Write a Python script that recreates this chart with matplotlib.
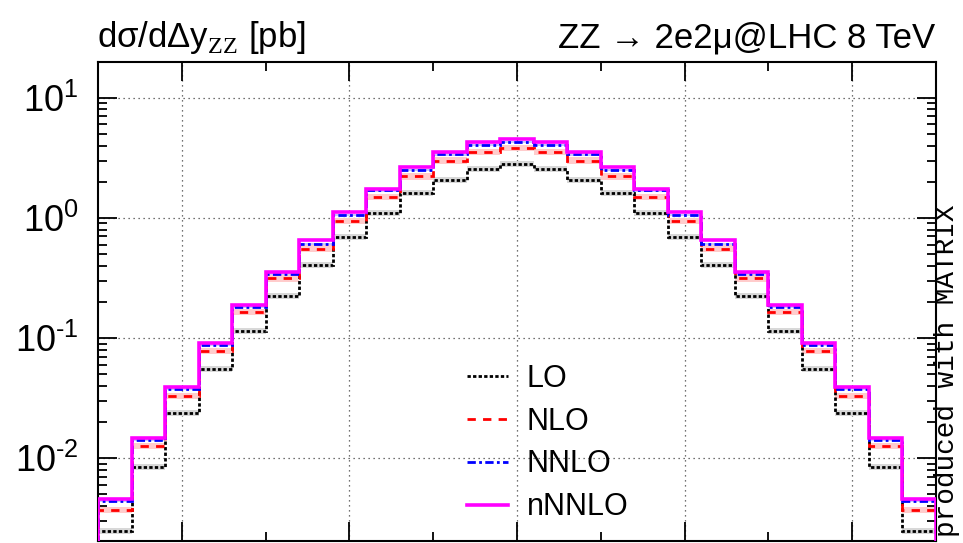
'''
Rapidity difference of the ZZ pair (ZZ -> 2e2mu, LHC 8 TeV), LO up to nNNLO
'''
import numpy as np
import matplotlib
matplotlib.use("Agg")
import matplotlib.pyplot as plt
from matplotlib.lines import Line2D
from matplotlib.ticker import LogLocator, MultipleLocator, NullFormatter, FuncFormatter

# bin edges of delta y_ZZ (25 bins)
dy_edges = np.linspace(-5.0, 5.0, 26)

# cross sections per bin in pb
xs_lo = [0.0025, 0.0085, 0.024, 0.0552, 0.115, 0.224, 0.405, 0.69, 1.10, 1.61, 2.08, 2.56, 2.80,
         2.56, 2.08, 1.61, 1.10, 0.69, 0.405, 0.224, 0.115, 0.0552, 0.024, 0.0085, 0.0025]
xs_nlo = [0.0037, 0.0126, 0.0332, 0.0783, 0.165, 0.314, 0.556, 0.95, 1.49, 2.21, 3.00, 3.55, 3.80,
          3.55, 3.00, 2.21, 1.49, 0.95, 0.556, 0.314, 0.165, 0.0783, 0.0332, 0.0126, 0.0037]
xs_nnlo = [0.0044, 0.0142, 0.0378, 0.087, 0.180, 0.339, 0.608, 1.06, 1.69, 2.52, 3.37, 4.05, 4.29,
           4.05, 3.37, 2.52, 1.69, 1.06, 0.608, 0.339, 0.180, 0.087, 0.0378, 0.0142, 0.0044]
xs_nnnlo = [0.0046, 0.0148, 0.0394, 0.0907, 0.1875, 0.354, 0.652, 1.12, 1.75, 2.65, 3.52, 4.24, 4.52,
            4.24, 3.52, 2.65, 1.75, 1.12, 0.652, 0.354, 0.1875, 0.0907, 0.0394, 0.0148, 0.0046]

# rough relative scale uncertainty (band half width)
unc_lo = 0.06
unc_nlo = 0.06
unc_nnlo = 0.02
unc_nnnlo = 0.02

labels = ["LO", "NLO", "NNLO", "nNNLO"]


def draw_hist(ax, vals, unc, col, band_col, ls, lw):
    """
    Step histogram with a thin uncertainty band
    """
    vals = np.array(vals)
    ax.stairs(vals * (1 + unc), dy_edges, baseline=vals * (1 - unc), fill=True,
              color=band_col, lw=0, zorder=2)
    ax.stairs(vals, dy_edges, color=col, ls=ls, lw=lw, zorder=3)


def pow_label(v, pos):
    """
    10^n label with a short hyphen as minus, like the original
    """
    n = int(round(np.log10(v)))
    return r'$\mathdefault{10^{%s}}$' % str(n).replace('-', '\u2010')


def main():
    plt.rcParams['font.family'] = ['Liberation Sans', 'DejaVu Sans']
    plt.rcParams['mathtext.fontset'] = 'custom'
    plt.rcParams['mathtext.rm'] = 'Liberation Serif'
    plt.rcParams['axes.unicode_minus'] = False

    fig = plt.figure(figsize=(9.63, 5.43), dpi=100)
    ax = fig.add_axes([0.1018, 0.0037, 0.8700, 0.8821])

    ls_lo = (0, (1.2, 0.8))
    ls_nlo = (0, (3, 2.6))
    ls_nnlo = (0, (3, 1.2, 1, 1.2))

    draw_hist(ax, xs_lo, unc_lo, 'black', '#d8d8d8', ls_lo, 2.0)
    draw_hist(ax, xs_nlo, unc_nlo, 'red', '#ffcccc', ls_nlo, 2.0)
    draw_hist(ax, xs_nnlo, unc_nnlo, 'blue', '#c8c8ff', ls_nnlo, 2.0)
    draw_hist(ax, xs_nnnlo, unc_nnnlo, 'magenta', '#ffc0ff', '-', 2.6)

    ax.set_yscale('log')
    ax.set_xlim(-5, 5)
    ax.set_ylim(2.05e-3, 19.8)

    ax.xaxis.set_major_locator(MultipleLocator(2))
    ax.xaxis.set_minor_locator(MultipleLocator(1))
    ax.yaxis.set_major_locator(LogLocator(base=10, numticks=10))
    ax.yaxis.set_major_formatter(FuncFormatter(pow_label))
    ax.yaxis.set_minor_locator(LogLocator(base=10, subs=np.arange(2, 10), numticks=20))
    ax.yaxis.set_minor_formatter(NullFormatter())

    ax.tick_params(which='both', direction='in', top=True, right=True, width=1.3)
    ax.tick_params(which='major', length=13.5)
    ax.tick_params(which='minor', length=6.5)
    ax.tick_params(axis='x', labelbottom=False)
    ax.tick_params(axis='y', labelsize=26, pad=14)
    for s in ax.spines.values():
        s.set_linewidth(1.5)

    ax.grid(True, which='major', color='#444444', ls=(0, (1, 3)), lw=0.9)
    ax.set_axisbelow(True)

    # legend
    handles = [Line2D([], [], color='black', ls=ls_lo, lw=2.0),
               Line2D([], [], color='red', ls=ls_nlo, lw=2.0),
               Line2D([], [], color='blue', ls=ls_nnlo, lw=2.0),
               Line2D([], [], color='magenta', ls='-', lw=2.6)]
    ax.legend(handles, labels, loc='upper left', bbox_to_anchor=(0.485, 0.330),
              bbox_transform=fig.transFigure, frameon=False, fontsize=22,
              handlelength=1.35, handletextpad=0.6, labelspacing=0.42,
              borderpad=0, borderaxespad=0)

    # titles
    fig.text(0.1008, 1 - 47 / 543, 'dσ/dΔy$_{\\mathrm{ZZ}}$ [pb]',
             fontsize=25, ha='left', va='baseline')
    fig.text(0.9715, 1 - 47 / 543, 'ZZ → 2e2μ@LHC 8 TeV', fontsize=25,
             ha='right', va='baseline')
    fig.text(0.9835, 0.011, 'produced with MATRIX', family='Liberation Mono',
             fontsize=20, rotation=90, ha='center', va='bottom')

    fig.savefig('out.png', dpi=100)


if __name__ == "__main__":
    main()
